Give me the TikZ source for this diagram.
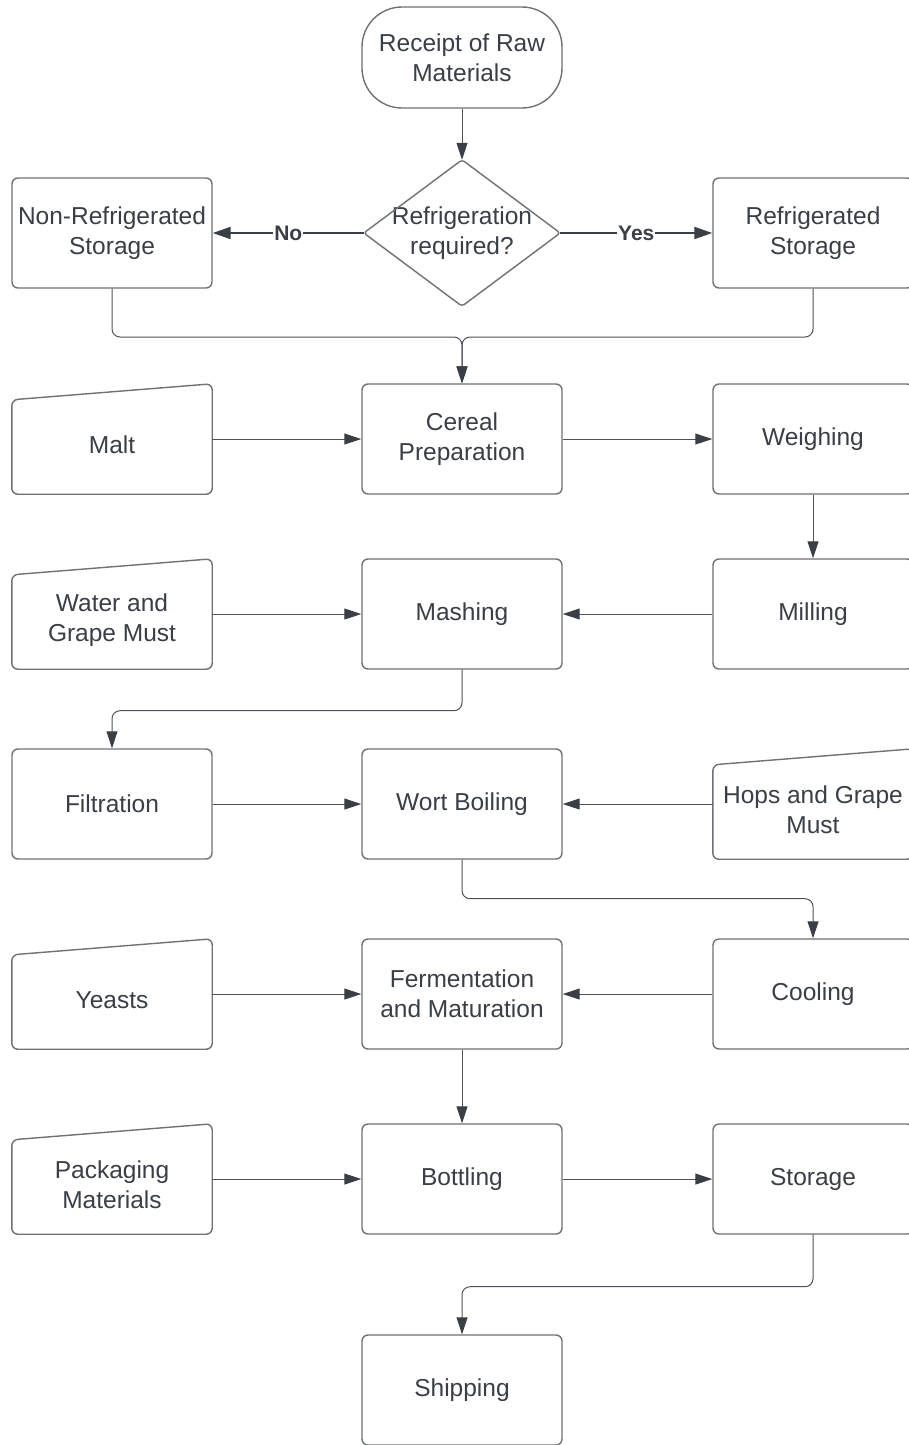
\documentclass[tikz,border=0pt]{standalone}
\usepackage{fontspec}
\setmainfont{Liberation Sans}
\usetikzlibrary{arrows.meta}
\definecolor{txt}{HTML}{3A3F47}
\definecolor{edge}{HTML}{6E7277}
\definecolor{wire}{HTML}{4E535A}
\definecolor{tip}{HTML}{3A3F47}
\newcommand\dn{\rule{0pt}{30pt}}
\begin{document}
\begin{tikzpicture}[x=1pt,y=-1pt,
  every node/.style={text=txt, font=\fontsize{24.5}{30}\selectfont, align=center, inner sep=0pt},
  procbox/.style={draw=edge, line width=1.4pt, rounded corners=6pt, minimum width=200pt, minimum height=110pt},
  inbox/.style={minimum width=200pt, minimum height=110pt},
  inline/.style={draw=edge, line width=1.4pt, rounded corners=6pt},
  flow/.style={draw=wire, line width=1pt, rounded corners=8pt, -{Triangle[length=17pt,width=11pt,color=tip]}},
  bigflow/.style={draw=tip, line width=2pt, -{Triangle[length=18pt,width=12pt,color=tip]}},
  lbl/.style={fill=white, font=\bfseries\fontsize{21}{24}\selectfont, inner sep=1pt}
]
\fill[white] (0,0) rectangle (909,1445);
\useasboundingbox (0,0) rectangle (909,1445);

% nodes
\node[procbox, rounded corners=40pt, minimum height=101pt] (start) at (462,57.5) {Receipt of Raw\\Materials};
\node[inbox, minimum width=196pt, minimum height=146pt] (dec) at (462,233) {Refrigeration\\required?};
\draw[inline, rounded corners=3pt] (dec.north) -- (dec.east) -- (dec.south) -- (dec.west) -- cycle;
\node[procbox] (noref) at (112,233) {Non-Refrigerated\\Storage};
\node[procbox] (ref) at (813,233) {Refrigerated\\Storage};
\node[inbox] (malt) at (112,439) {\dn Malt};
\node[procbox] (cereal) at (462,439) {Cereal\\Preparation};
\node[procbox] (weigh) at (813,439) {Weighing};
\node[inbox] (water) at (112,614) {\dn Water and\\Grape Must};
\node[procbox] (mash) at (462,614) {Mashing};
\node[procbox] (mill) at (813,614) {Milling};
\node[procbox] (filt) at (112,804) {Filtration};
\node[procbox] (wort) at (462,804) {Wort Boiling};
\node[inbox] (hops) at (813,804) {\dn Hops and Grape\\Must};
\node[inbox] (yeast) at (112,994) {\dn Yeasts};
\node[procbox] (ferm) at (462,994) {Fermentation\\and Maturation};
\node[procbox] (cool) at (813,994) {Cooling};
\node[inbox] (pack) at (112,1179) {\dn Packaging\\Materials};
\node[procbox] (bottle) at (462,1179) {Bottling};
\node[procbox] (store) at (813,1179) {Storage};
\node[procbox] (ship) at (462,1390) {Shipping};

% manual input outlines
\foreach \n in {malt,water,hops,yeast,pack}
  \draw[inline] (\n.south west) -- ([yshift=-16pt]\n.north west) -- (\n.north east) -- (\n.south east) -- cycle;

% connectors
\draw[flow] (start.south) -- (dec.north);
\draw[bigflow] (dec.west) -- node[lbl] {No} (noref.east);
\draw[bigflow] (dec.east) -- node[lbl] {Yes} (ref.west);
\coordinate (merge) at (462,337);
\draw[flow] (noref.south) |- (merge) -- (cereal.north);
\draw[flow] (ref.south) |- (merge) -- (cereal.north);
\draw[flow] (malt.east) -- (cereal.west);
\draw[flow] (cereal.east) -- (weigh.west);
\draw[flow] (weigh.south) -- (mill.north);
\draw[flow] (water.east) -- (mash.west);
\draw[flow] (mill.west) -- (mash.east);
\draw[flow] (mash.south) -- ++(0,41) -| (filt.north);
\draw[flow] (filt.east) -- (wort.west);
\draw[flow] (hops.west) -- (wort.east);
\draw[flow] (wort.south) -- ++(0,39) -| (cool.north);
\draw[flow] (yeast.east) -- (ferm.west);
\draw[flow] (cool.west) -- (ferm.east);
\draw[flow] (ferm.south) -- (bottle.north);
\draw[flow] (pack.east) -- (bottle.west);
\draw[flow] (bottle.east) -- (store.west);
\draw[flow] (store.south) -- ++(0,52) -| (ship.north);
\end{tikzpicture}
\end{document}
